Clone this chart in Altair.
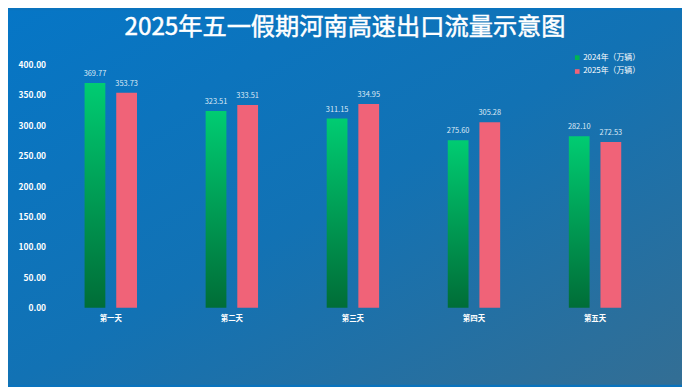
import altair as alt
import pandas as pd

days = ["第一天", "第二天", "第三天", "第四天", "第五天"]
series_names = ["2024年（万辆）", "2025年（万辆）"]
v2024 = [369.77, 323.51, 311.15, 275.60, 282.10]
v2025 = [353.73, 333.51, 334.95, 305.28, 272.53]
y_ticks = [0, 50, 100, 150, 200, 250, 300, 350, 400]
title_text = "2025年五一假期河南高速出口流量示意图"

rows = []
for d, a, b in zip(days, v2024, v2025):
    rows.append({"day": d, "series": series_names[0], "value": a})
    rows.append({"day": d, "series": series_names[1], "value": b})
df = pd.DataFrame(rows)

FONT = "Noto Sans CJK SC"
W, H = 612, 246
PAD = {"left": 43, "top": 55, "right": 27, "bottom": 78}

x_enc = alt.X("day:N", sort=days, title=None,
              scale=alt.Scale(paddingInner=0.567, paddingOuter=0.2815),
              axis=alt.Axis(labelAngle=0, domain=False, ticks=False, grid=False,
                            labelColor="white", labelFontSize=7.5, labelFontWeight="bold",
                            labelFont=FONT, labelPadding=7, zindex=2))
xo_enc = alt.XOffset("series:N", sort=series_names,
                     scale=alt.Scale(domain=series_names, paddingInner=0.344, paddingOuter=0))
y_enc = alt.Y("value:Q", title=None,
              scale=alt.Scale(domain=[0, 400], nice=False),
              axis=alt.Axis(values=y_ticks, format=".2f", domain=False, ticks=False, grid=False,
                            labelColor="white", labelFontSize=8.5, labelFontWeight="bold",
                            labelFont=FONT, labelPadding=5, zindex=2))

bg = alt.Chart(pd.DataFrame({"k": [0]})).mark_rect(
    color=alt.Gradient(gradient="linear", x1=0, y1=0, x2=1, y2=1,
                       stops=[alt.GradientStop(color="#0676c6", offset=0),
                              alt.GradientStop(color="#1272b4", offset=0.5),
                              alt.GradientStop(color="#336e94", offset=1)])
).encode(x=alt.value(-PAD["left"]), x2=alt.value(W + PAD["right"]),
         y=alt.value(-PAD["top"]), y2=alt.value(H + PAD["bottom"]))

title = alt.Chart(pd.DataFrame({"t": [title_text]})).mark_text(
    color="white", fontSize=24.5, font=FONT, fontWeight="normal", baseline="middle",
    align="center", stroke="white", strokeWidth=0.5
).encode(text="t:N", x=alt.value(W / 2 - 8), y=alt.value(-37))

base = alt.Chart(df)

green = base.transform_filter(alt.datum.series == series_names[0]).mark_bar(
    color=alt.Gradient(gradient="linear", x1=0, y1=0, x2=0, y2=1,
                       stops=[alt.GradientStop(color="#00cc72", offset=0),
                              alt.GradientStop(color="#006d37", offset=1)])
).encode(x=x_enc, xOffset=xo_enc, y=y_enc)

pink = base.transform_filter(alt.datum.series == series_names[1]).mark_bar().encode(
    x=x_enc, xOffset=xo_enc, y=y_enc,
    color=alt.Color("series:N",
                    scale=alt.Scale(domain=series_names, range=["#00b452", "#f06378"]),
                    legend=alt.Legend(title=None, orient="none", legendX=529, legendY=-11,
                                      symbolType="square", symbolSize=22, symbolStrokeWidth=0,
                                      labelColor="white", labelFontSize=8, labelFont=FONT,
                                      rowPadding=6, labelOffset=2))
)

labels = base.mark_text(baseline="bottom", dy=-5, fontSize=7.5, font=FONT,
                        color="#dce9f6").encode(
    x=x_enc, xOffset=xo_enc, y=y_enc, text=alt.Text("value:Q", format=".2f"))

chart = alt.layer(bg, title, green, pink, labels).properties(
    width=W, height=H,
    autosize=alt.AutoSizeParams(type="none"),
    padding=PAD,
    background="#0a73bd",
).configure_view(stroke=None)

chart.save("out.html", embed_options={"renderer": "svg", "actions": False})
